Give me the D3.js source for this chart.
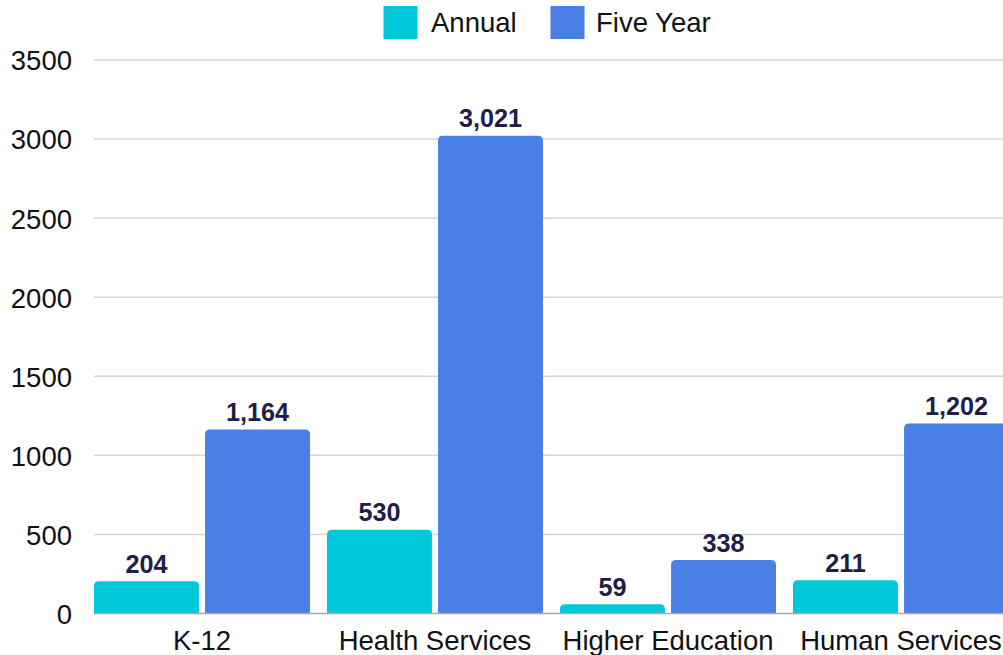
<!DOCTYPE html>
<html>
<head>
<meta charset="utf-8">
<script src="https://cdn.jsdelivr.net/npm/d3@7"></script>
<style>
  html, body { margin: 0; padding: 0; background: #fff; overflow: hidden; }
  svg { display: block; font-family: "Liberation Sans", Arial, sans-serif; }
</style>
</head>
<body>
<svg id="chart" width="1003" height="655"></svg>
<script>
// Data
const categories = ["K-12", "Health Services", "Higher Education", "Human Services"];
const seriesNames = ["Annual", "Five Year"];
const annual = [204, 530, 59, 211];
const fiveYear = [1164, 3021, 338, 1202];
const yTicks = [0, 500, 1000, 1500, 2000, 2500, 3000, 3500];

const colors = { "Annual": "#00C8DA", "Five Year": "#4A7FE5" };
const seriesValues = { "Annual": annual, "Five Year": fiveYear };

const svg = d3.select("#chart");

const plotLeft = 85.5, plotRight = 1017.5;
const plotTop = 60, plotBottom = 613.5;

const x = d3.scaleBand().domain(categories).range([plotLeft, plotRight])
  .paddingInner(0.073).paddingOuter(0.0365);
const xSub = d3.scaleBand().domain(seriesNames).range([0, x.bandwidth()]).paddingInner(0.055);
const y = d3.scaleLinear().domain([0, 3500]).range([plotBottom, plotTop]);

const gridLeft = x(categories[0]);

// Gridlines
svg.append("g").selectAll("line").data(yTicks.filter(d => d > 0)).join("line")
  .attr("x1", gridLeft).attr("x2", 1003)
  .attr("y1", d => y(d)).attr("y2", d => y(d))
  .attr("stroke", "#d6d6d6").attr("stroke-width", 1.5);

// Y axis labels
const yAxis = d3.axisLeft(y).tickValues(yTicks).tickSize(0).tickPadding(0).tickFormat(d3.format("d"));
const gy = svg.append("g").attr("transform", "translate(72,0)").call(yAxis);
gy.select(".domain").remove();
gy.selectAll("text").attr("font-size", 27.5).attr("fill", "#111")
  .attr("font-family", "'Liberation Sans', Arial, sans-serif").attr("dy", "0.36em");

// Bars with rounded top corners
function topRoundedRect(x0, y0, w, h, r) {
  r = Math.min(r, h, w / 2);
  return `M${x0},${y0 + h}V${y0 + r}Q${x0},${y0} ${x0 + r},${y0}H${x0 + w - r}Q${x0 + w},${y0} ${x0 + w},${y0 + r}V${y0 + h}Z`;
}

const barData = [];
categories.forEach((c, i) => {
  seriesNames.forEach(s => barData.push({ cat: c, series: s, value: seriesValues[s][i] }));
});

const bars = svg.append("g");
bars.selectAll("path").data(barData).join("path")
  .attr("d", d => {
    const bx = x(d.cat) + xSub(d.series);
    const by = y(d.value);
    return topRoundedRect(bx, by, xSub.bandwidth(), y(0) - by, 5);
  })
  .attr("fill", d => colors[d.series]);

// Value labels
svg.append("g").selectAll("text").data(barData).join("text")
  .attr("x", d => x(d.cat) + xSub(d.series) + xSub.bandwidth() / 2)
  .attr("y", d => y(d.value) - 8.5)
  .attr("text-anchor", "middle")
  .attr("font-size", 25.2).attr("font-weight", "bold").attr("fill", "#211d45")
  .text(d => d3.format(",")(d.value));

// Baseline
svg.append("line")
  .attr("x1", gridLeft).attr("x2", 1003)
  .attr("y1", y(0)).attr("y2", y(0))
  .attr("stroke", "#a8a8a8").attr("stroke-width", 1.5);

// X axis labels
const xAxis = d3.axisBottom(x).tickSize(0).tickPadding(0);
const gx = svg.append("g").attr("transform", `translate(0,${y(0)})`).call(xAxis);
gx.select(".domain").remove();
gx.selectAll("text").attr("font-size", 27.5).attr("fill", "#111")
  .attr("font-family", "'Liberation Sans', Arial, sans-serif")
  .attr("dy", null).attr("y", 36);

// Legend
const legendItems = [
  { name: "Annual", sx: 383.5, tx: 431 },
  { name: "Five Year", sx: 550.5, tx: 596 }
];
const lg = svg.append("g");
lg.selectAll("rect").data(legendItems).join("rect")
  .attr("x", d => d.sx).attr("y", 6).attr("width", 34).attr("height", 33)
  .attr("fill", d => colors[d.name]);
lg.selectAll("text").data(legendItems).join("text")
  .attr("x", d => d.tx).attr("y", 32)
  .attr("font-size", 27.5).attr("fill", "#111")
  .text(d => d.name);
</script>
</body>
</html>
